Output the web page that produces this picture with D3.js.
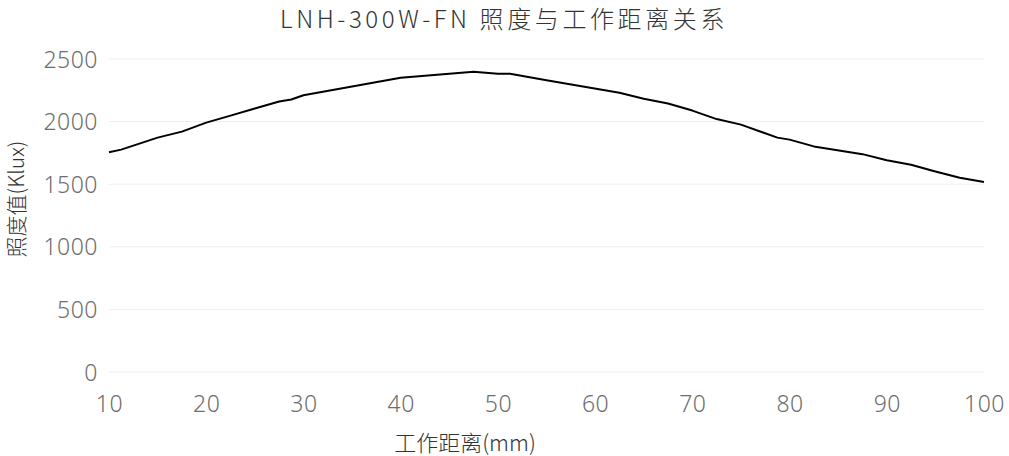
<!DOCTYPE html>
<html>
<head>
<meta charset="utf-8">
<script src="https://cdn.jsdelivr.net/npm/d3@7"></script>
<style>
  body { margin: 0; background: #fff; }
  svg text { font-family: "Noto Sans CJK SC", "Noto Sans", sans-serif; font-weight: 300; }
</style>
</head>
<body>
<div id="chart"></div>
<script>
// working distance (mm) and illuminance (Klux)
const distance = [10, 11.25, 15, 17.5, 20, 22.5, 25, 27.5, 28.75, 30, 40, 47.5, 50, 51.25, 55,
                  62.5, 65, 67.5, 70, 72.5, 75, 78.75, 80, 82.5, 87.5, 90, 92.5, 95, 97.5, 100];
const illuminance = [1756, 1776, 1872, 1920, 1992, 2048, 2104, 2160, 2176, 2210, 2350, 2398, 2382, 2382, 2330,
                     2230, 2182, 2144, 2088, 2020, 1976, 1872, 1856, 1802, 1740, 1692, 1656, 1602, 1552, 1518];
const xTicks = [10, 20, 30, 40, 50, 60, 70, 80, 90, 100];
const yTicks = [0, 500, 1000, 1500, 2000, 2500];

const title = 'LNH-300W-FN 照度与工作距离关系',
    xLabel = '工作距离(mm)',
    yLabel = '照度值(Klux)';

let margin = {top: 59, left: 109, right: 25, bottom: 84},
    width = 1009 - margin.left - margin.right,
    height = 456 - margin.top - margin.bottom;

let data = distance.map((d, i) => ({x: d, y: illuminance[i]}));

let xScale = d3.scaleLinear().domain([10, 100]).range([0, width]),
    yScale = d3.scaleLinear().domain([0, 2500]).range([height, 0]);

let svg = d3.select('#chart')
    .append('svg')
    .attr('width', 1009)
    .attr('height', 456);

let g = svg.append('g')
    .attr('transform', `translate(${margin.left},${margin.top})`);

// horizontal grid lines
g.selectAll('.grid')
    .data(yTicks)
    .enter().append('line')
    .attr('x1', 0)
    .attr('x2', width)
    .attr('y1', d => yScale(d))
    .attr('y2', d => yScale(d))
    .attr('stroke', '#eeeeee')
    .attr('stroke-width', 1);

// y axis labels
let yAxis = g.append('g')
    .call(d3.axisLeft(yScale).tickValues(yTicks).tickFormat(d3.format('d')).tickSize(0).tickPadding(11));
yAxis.select('.domain').remove();
yAxis.selectAll('text')
    .attr('fill', '#6e6e6e')
    .attr('font-size', 23)
    .attr('dy', '0.35em')
    .style('font-family', '"Noto Sans", sans-serif')
    .style('font-weight', 300)
    .style('letter-spacing', '0.5px');

// x axis labels
let xAxis = g.append('g')
    .attr('transform', `translate(0,${height})`)
    .call(d3.axisBottom(xScale).tickValues(xTicks).tickSize(0).tickPadding(24));
xAxis.select('.domain').remove();
xAxis.selectAll('text')
    .attr('fill', '#6e6e6e')
    .attr('font-size', 23)
    .style('font-family', '"Noto Sans", sans-serif')
    .style('font-weight', 300)
    .style('letter-spacing', '0.5px');

// the line
let line = d3.line()
    .x(d => xScale(d.x))
    .y(d => yScale(d.y));

g.append('path')
    .datum(data)
    .attr('fill', 'none')
    .attr('stroke', '#000')
    .attr('stroke-width', 2)
    .attr('stroke-linejoin', 'round')
    .attr('d', line);

// titles
svg.append('text')
    .attr('x', 504)
    .attr('y', 28)
    .attr('text-anchor', 'middle')
    .attr('font-size', 24)
    .attr('fill', '#333')
    .style('letter-spacing', '3.6px')
    .text(title);

svg.append('text')
    .attr('x', 465)
    .attr('y', 451)
    .attr('text-anchor', 'middle')
    .attr('font-size', 22)
    .attr('fill', '#333')
    .text(xLabel);

svg.append('text')
    .attr('transform', `translate(24,199) rotate(-90)`)
    .attr('text-anchor', 'middle')
    .attr('font-size', 21)
    .attr('fill', '#333')
    .text(yLabel);
</script>
</body>
</html>
